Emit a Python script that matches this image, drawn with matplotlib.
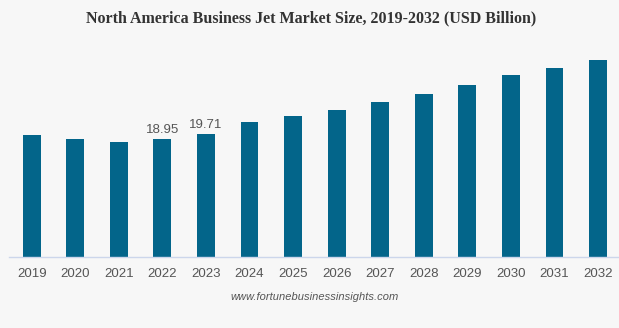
import matplotlib
matplotlib.use("Agg")
import matplotlib.pyplot as plt

years = ["2019", "2020", "2021", "2022", "2023", "2024", "2025",
         "2026", "2027", "2028", "2029", "2030", "2031", "2032"]
values = [19.54, 18.95, 18.47, 18.95, 19.71, 21.63, 22.60,
          23.50, 24.90, 26.20, 27.60, 29.20, 30.30, 31.60]
labeled = {"2022": "18.95", "2023": "19.71"}

bg = "#f7f7f7"
bar_color = "#03658a"

fig = plt.figure(figsize=(6.19, 3.28), dpi=100, facecolor=bg)
W, H = 619, 328
left, right, bottom, top = 9, 619, 256.7, 40
ax = fig.add_axes([left / W, 1 - bottom / H, (right - left) / W, (bottom - top) / H])
ax.set_facecolor(bg)

x = list(range(len(years)))
bars = ax.bar(x, values, width=0.41, color=bar_color, zorder=2)
ax.set_xlim(-0.52, 13.48)
ax.set_ylim(0, (bottom - top) * 0.1606)

for i, (yr, v) in enumerate(zip(years, values)):
    if yr in labeled:
        ax.text(i, v + 0.4, labeled[yr], ha="center", va="bottom",
                fontsize=9.5, color="#555555", family="Liberation Sans")

ax.set_xticks(x)
ax.set_xticklabels(years, fontsize=9.5, color="#555555", family="Liberation Sans")
ax.tick_params(axis="x", length=0, pad=8)
ax.set_yticks([])
for s in ["top", "right", "left"]:
    ax.spines[s].set_visible(False)
ax.spines["bottom"].set_color("#ccd6eb")
ax.spines["bottom"].set_linewidth(1)

fig.text(311 / W, 1 - 18 / H, "North America Business Jet Market Size, 2019-2032 (USD Billion)",
         ha="center", va="center", fontsize=11.5, fontweight="bold",
         family="Liberation Serif", color="#333333")
fig.text(315 / W, 1 - 297 / H, "www.fortunebusinessinsights.com",
         ha="center", va="center", fontsize=8, style="italic",
         family="Liberation Sans", color="#555555")

fig.savefig("out.png", dpi=100, facecolor=bg)
